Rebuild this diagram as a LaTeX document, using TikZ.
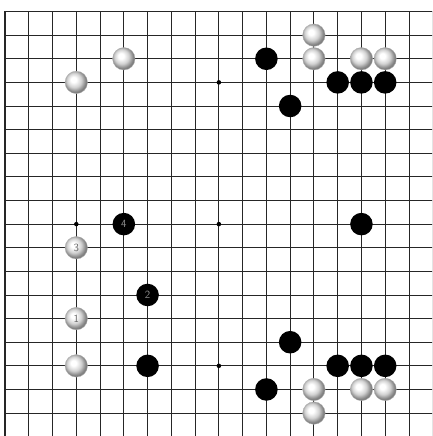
\documentclass[tikz,border=0pt]{standalone}
\usepackage{tikz}

\pgfdeclareradialshading{whitestone}{\pgfpoint{-7bp}{7bp}}{color(0bp)=(white); color(6bp)=(white); color(16bp)=(black!18); color(22bp)=(black!40); color(25bp)=(black!50); color(50bp)=(black!50)}

\begin{document}
\begin{tikzpicture}[
    x=23.72pt, y=23.58pt,
    gridline/.style={line width=0.9pt, black!85},
    edgeline/.style={line width=1.1pt, black!85},
    hoshi/.style={circle, fill=black, inner sep=0pt, minimum size=4.5pt},
    wstone/.style={circle, minimum size=22.5pt, inner sep=0pt, shading=whitestone, draw=black!30, line width=0.3pt, font=\fontsize{11}{11}\selectfont\sffamily, text=black!60},
    bstone/.style={circle, minimum size=22.5pt, inner sep=0pt, fill=black, font=\fontsize{11}{11}\selectfont\sffamily, text=black!45}
]

\clip (-0.211,-17.97) rectangle (17.97,0.488);

\foreach \i in {0,...,18} {
    \draw[gridline] (\i,0) -- (\i,-18);
    \draw[gridline] (0,-\i) -- (18,-\i);
}
\draw[edgeline] (0,-18) -- (0,0) -- (18,0);

\foreach \c in {4,10,16}
    \foreach \r in {4,10,16}
        \node[hoshi] (hoshi-\c-\r) at (\c-1,1-\r) {};

\foreach \c/\r in {4/4, 6/3, 14/2, 14/3, 16/3, 17/3, 4/16, 14/17, 14/18, 16/17, 17/17}
    \node[wstone] (w-\c-\r) at (\c-1,1-\r) {};

\foreach \c/\r in {12/3, 15/4, 16/4, 17/4, 13/5, 16/10, 7/16, 13/15, 15/16, 16/16, 17/16, 12/17}
    \node[bstone] (b-\c-\r) at (\c-1,1-\r) {};

\node[wstone] (move1) at (3,-13) {1};
\node[bstone] (move2) at (6,-12) {2};
\node[wstone] (move3) at (3,-10) {3};
\node[bstone] (move4) at (5,-9) {4};

\end{tikzpicture}
\end{document}
